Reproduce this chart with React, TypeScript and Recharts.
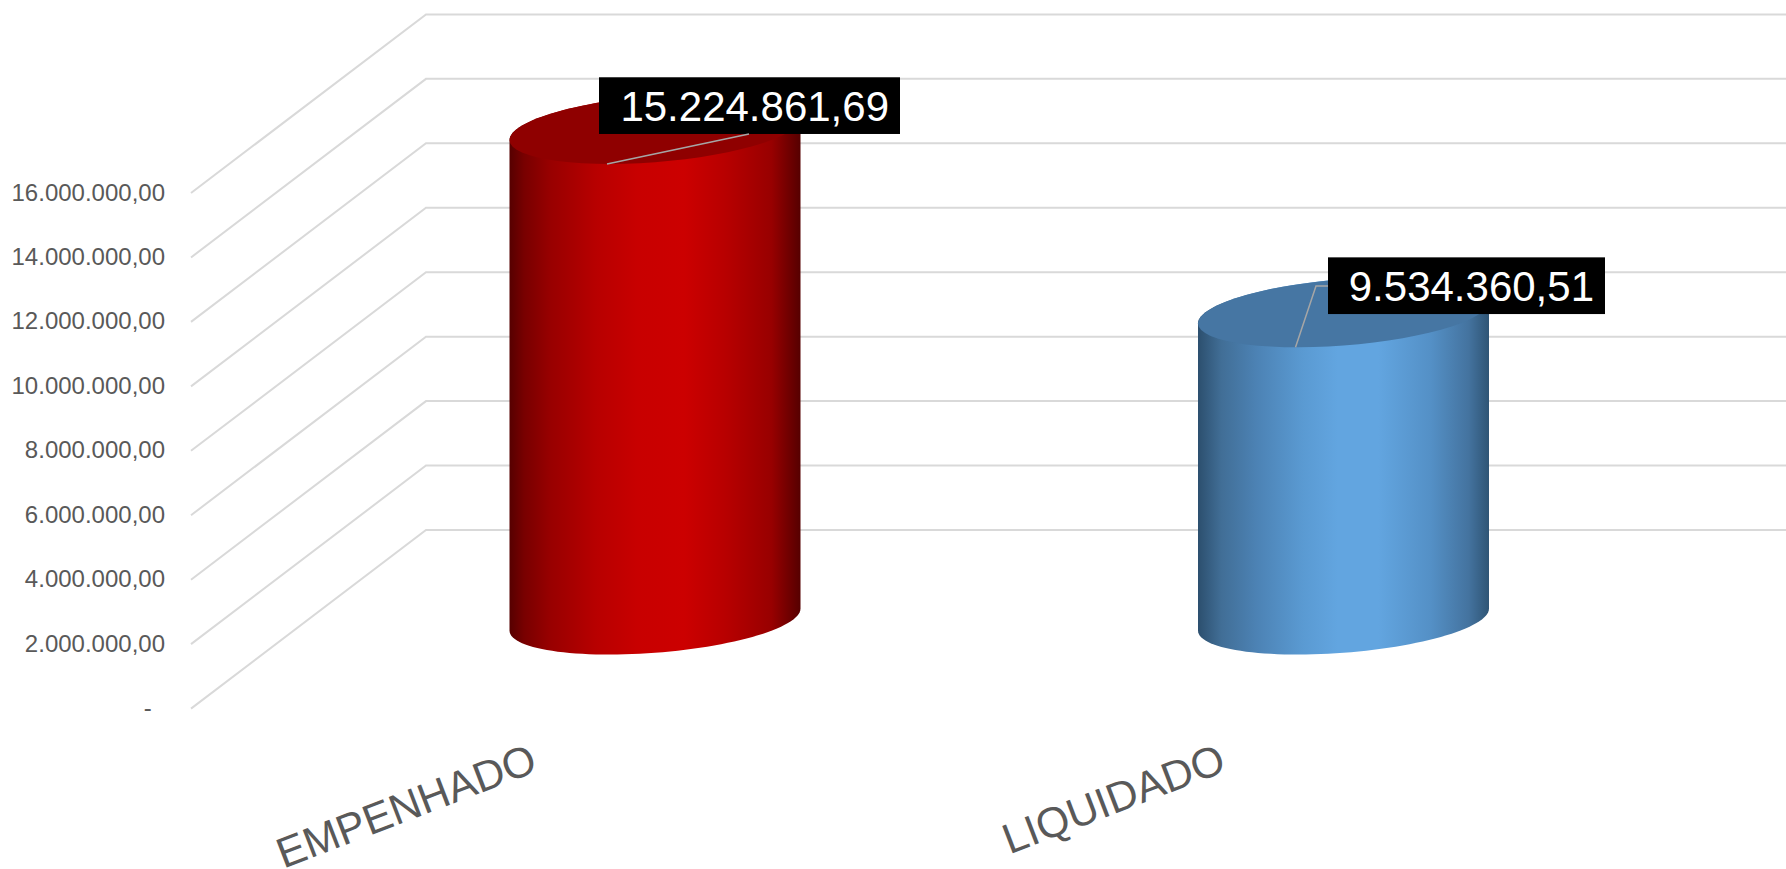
import React from 'react';
import { BarChart, Bar, XAxis, YAxis, CartesianGrid, LabelList } from 'recharts';

const categories = ['EMPENHADO', 'LIQUIDADO'];
const values = [15224861.69, 9534360.51];
const yTicks = [0, 2000000, 4000000, 6000000, 8000000, 10000000, 12000000, 14000000, 16000000];

const chartData = categories.map((name, i) => ({ name, value: values[i] }));

// depth of the fake 3D floor, back wall sits this far from the axis plane
const DEPTH_X = 235;
const DEPTH_Y = -178.6;
// the cylinders stand about half way into that floor
const BAR_SHIFT_X = 119.5;
const BAR_SHIFT_Y = -89;
const FONT = '"Liberation Sans", Arial, sans-serif';

const ELLIPSE_SKEW = 11;
const ELLIPSE_K = 33.2;

const gradients = [
  {
    id: 'redBody',
    top: '#8f0000',
    stops: [
      ['0%', '#560000'],
      ['5%', '#780000'],
      ['14%', '#980000'],
      ['30%', '#b80000'],
      ['44%', '#c80000'],
      ['60%', '#cc0000'],
      ['74%', '#b80000'],
      ['90%', '#980000'],
      ['100%', '#560000'],
    ],
  },
  {
    id: 'blueBody',
    top: '#4676a3',
    stops: [
      ['0%', '#2c4f6e'],
      ['8%', '#416e96'],
      ['20%', '#4c82b4'],
      ['36%', '#5a9ad2'],
      ['48%', '#62a5e0'],
      ['62%', '#62a5e0'],
      ['80%', '#5490c6'],
      ['93%', '#44739f'],
      ['100%', '#2f5575'],
    ],
  },
];

const ellipsePoint = (cx: number, cy: number, a: number, t: number) => [
  cx + a * Math.cos(t),
  cy - ELLIPSE_SKEW * Math.cos(t) + ELLIPSE_K * Math.sin(t),
];

const halfEllipse = (cx: number, cy: number, a: number, from: number, to: number) => {
  const pts: string[] = [];
  for (let i = 0; i <= 60; i++) {
    const [px, py] = ellipsePoint(cx, cy, a, from + ((to - from) * i) / 60);
    pts.push(`${px.toFixed(2)} ${py.toFixed(2)}`);
  }
  return pts;
};

const Cylinder = (props: any) => {
  const { x, y, width, height, index } = props;
  const a = width / 2;
  const cx = x + a + BAR_SHIFT_X;
  const top = y + BAR_SHIFT_Y;
  const bottom = y + height + BAR_SHIFT_Y;
  const g = gradients[index];
  // body goes round the back of the rim too, so no pale seam shows under the cap
  const lower = halfEllipse(cx, bottom, a, Math.PI, 0);
  const upper = halfEllipse(cx, top, a, 0, -Math.PI);
  const body = `M${lower.join(' L')} L${upper.join(' L')} Z`;
  const cap = `M${halfEllipse(cx, top, a, 0, Math.PI * 2).join(' L')} Z`;
  return (
    <g>
      <path d={body} fill={`url(#${g.id})`} />
      <path d={cap} fill={g.top} />
    </g>
  );
};

const DataCallout = (props: any) => {
  const { x, y, width, index, value } = props;
  const a = width / 2;
  const cx = x + a + BAR_SHIFT_X;
  const top = y + BAR_SHIFT_Y;
  const text = Number(value).toLocaleString('pt-BR', { minimumFractionDigits: 2, maximumFractionDigits: 2 });
  const red = index === 0;
  const boxX = red ? cx - 56 : cx - 15.5;
  const boxW = red ? 301 : 277;
  const boxY = red ? top - 51.7 : top - 55;
  const leader = red
    ? `M${cx - 48} ${top + 35} L${cx + 94} ${boxY + 56.7}`
    : `M${cx - 48} ${top + 35} L${cx - 27.5} ${boxY + 28.7} L${boxX} ${boxY + 28.7}`;
  return (
    <g>
      <rect x={boxX} y={boxY} width={boxW} height={56.7} fill="#000000" />
      <path d={leader} fill="none" stroke="#a6a6a6" strokeWidth={1.5} />
      <text x={boxX + boxW - 11} y={boxY + 43.7} textAnchor="end" fill="#ffffff" fontSize={42} fontFamily={FONT}>
        {text}
      </text>
    </g>
  );
};

const GridLine = (props: any) => {
  const { x1, y1, x2 } = props;
  const d = `M${x1} ${y1} L${x1 + DEPTH_X} ${y1 + DEPTH_Y} L${x2 + DEPTH_X} ${y1 + DEPTH_Y}`;
  return <path d={d} fill="none" stroke="#d9d9d9" strokeWidth={2} />;
};

const CategoryTick = ({ x, y, payload }: any) => (
  <text
    x={x + 4}
    y={y}
    textAnchor="end"
    fill="#595959"
    fontSize={42.5}
    fontFamily={FONT}
    transform={`rotate(-21 ${x + 4} ${y})`}
  >
    {payload.value}
  </text>
);

const formatTick = (v: number) =>
  v === 0 ? '-\u00A0\u00A0' : v.toLocaleString('pt-BR', { minimumFractionDigits: 2, maximumFractionDigits: 2 });

export default function App() {
  return (
    <div style={{ position: 'absolute', left: 0, top: 0, width: 1786, height: 869, background: '#ffffff', overflow: 'hidden' }}>
      <BarChart width={1786} height={869} data={chartData} margin={{ top: 193, right: 218, bottom: 0, left: 0 }}>
        <defs>
          {gradients.map((g) => (
            <linearGradient key={g.id} id={g.id} x1="0" y1="0" x2="1" y2="0">
              {g.stops.map(([offset, color]) => (
                <stop key={offset} offset={offset} stopColor={color} />
              ))}
            </linearGradient>
          ))}
        </defs>
        <CartesianGrid vertical={false} horizontal={GridLine} />
        <XAxis
          dataKey="name"
          axisLine={false}
          tickLine={false}
          tick={CategoryTick}
          tickMargin={0}
          tickSize={62}
          height={160.4}
          interval={0}
        />
        <YAxis
          domain={[0, 16000000]}
          ticks={yTicks}
          width={191}
          axisLine={false}
          tickLine={false}
          tickSize={0}
          tickMargin={26}
          interval={0}
          tickFormatter={formatTick}
          tick={{ fill: '#595959', fontSize: 24, fontFamily: FONT, dy: -1 }}
        />
        <Bar dataKey="value" barSize={291} shape={Cylinder} isAnimationActive={false}>
          <LabelList dataKey="value" content={DataCallout} />
        </Bar>
      </BarChart>
    </div>
  );
}
